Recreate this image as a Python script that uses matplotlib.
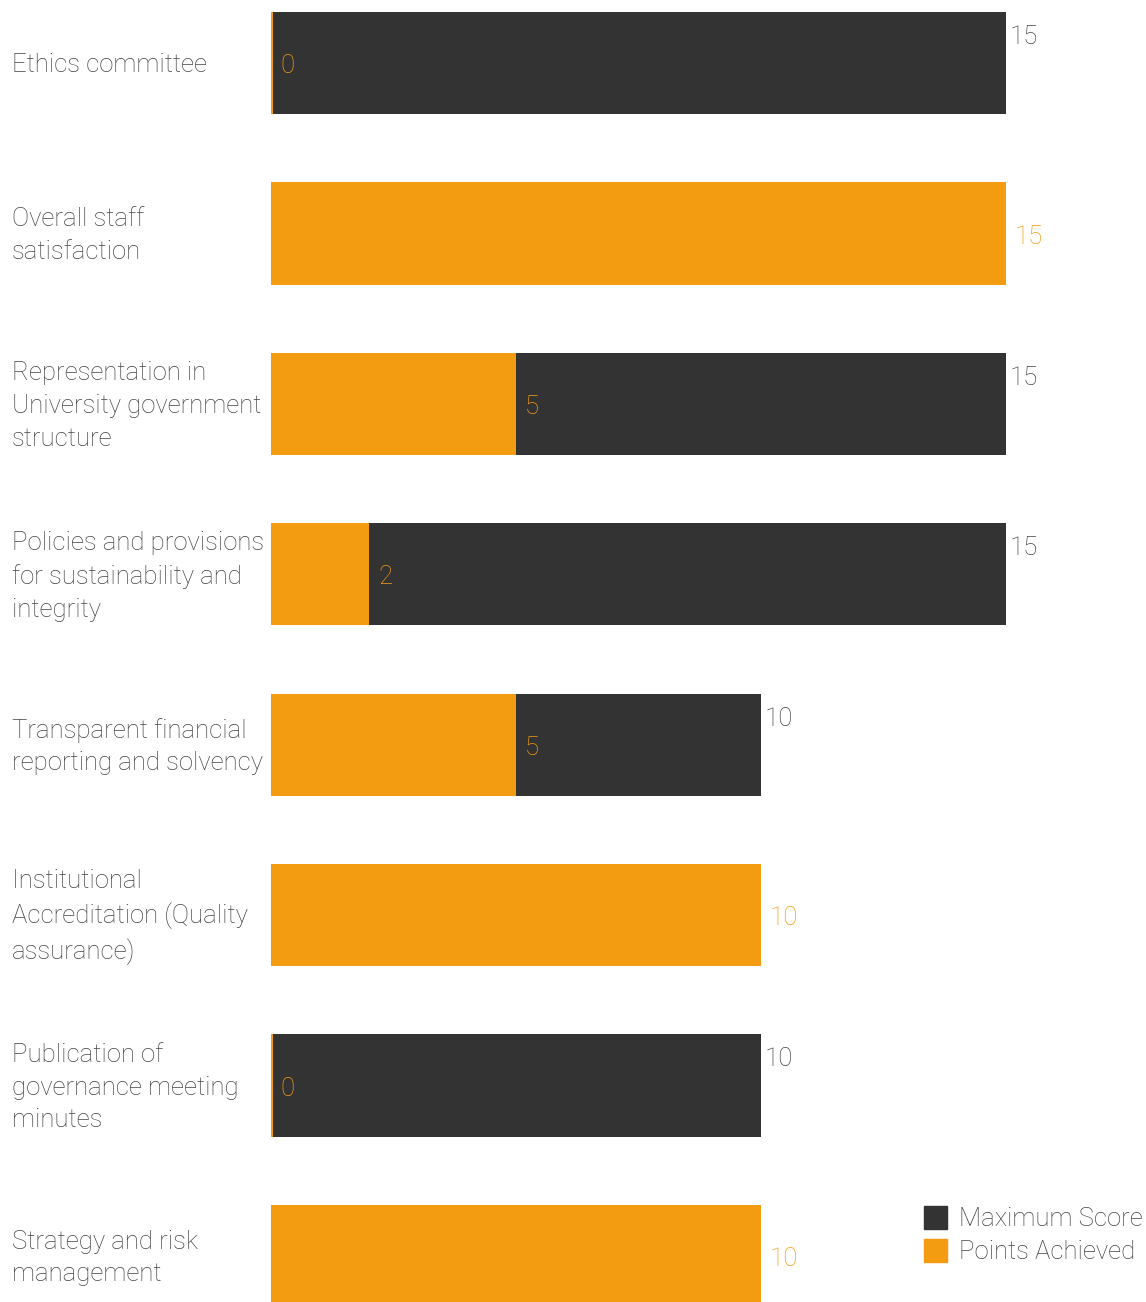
import matplotlib.pyplot as plt
from matplotlib.patches import Patch

plt.rcParams['font.family'] = ['Roboto', 'DejaVu Sans']
plt.rcParams['font.weight'] = 'light'

# data
categories = [
    "Ethics committee",
    "Overall staff\nsatisfaction",
    "Representation in\nUniversity government\nstructure",
    "Policies and provisions\nfor sustainability and\nintegrity",
    "Transparent financial\nreporting and solvency",
    "Institutional\nAccreditation (Quality\nassurance)",
    "Publication of\ngovernance meeting\nminutes",
    "Strategy and risk\nmanagement",
]
max_score = [15, 15, 15, 15, 10, 10, 10, 10]
achieved = [0, 15, 5, 2, 5, 10, 0, 10]

dark = "#333333"
orange = "#F39C12"
grey = "#444444"

fig = plt.figure(figsize=(11.46, 13.02), dpi=100)
ax = fig.add_axes([271 / 1146, 0, 735 / 1146, 1])

y = list(range(len(categories)))
ax.barh(y, max_score, height=0.6, color=dark)
# tiny stub so zero values still show a sliver of orange
ach_draw = [a if a > 0 else 0.04 for a in achieved]
ax.barh(y, ach_draw, height=0.6, color=orange)

ax.set_xlim(0, 15)
ax.set_ylim(7.27, -0.3705)
ax.axis("off")

fs = 18.5
for i, (cat, m, a) in enumerate(zip(categories, max_score, achieved)):
    ax.annotate(cat, xy=(0, i), xycoords=("axes fraction", "data"),
                xytext=(-259, -2), textcoords="offset pixels",
                ha="left", va="center", fontsize=fs, color=grey,
                linespacing=1.45, annotation_clip=False)
    if a < m:
        ax.annotate(str(m), xy=(m, i - 0.3), xytext=(4, -13),
                    textcoords="offset pixels", ha="left", va="top",
                    fontsize=fs, color=grey, annotation_clip=False)
    ax.annotate(str(a), xy=(a, i), xytext=(9, -3), textcoords="offset pixels",
                ha="left", va="center", fontsize=fs, color=orange,
                annotation_clip=False)

handles = [Patch(color=dark, label="Maximum Score"),
           Patch(color=orange, label="Points Achieved")]
fig.legend(handles=handles, loc="lower right", bbox_to_anchor=(0.997, 0.029),
           frameon=False, fontsize=fs, labelcolor=grey,
           handlelength=0.9, handleheight=1.0, handletextpad=0.45,
           labelspacing=0.3, borderaxespad=0.0, borderpad=0.0)

fig.savefig("out.png", dpi=100)
